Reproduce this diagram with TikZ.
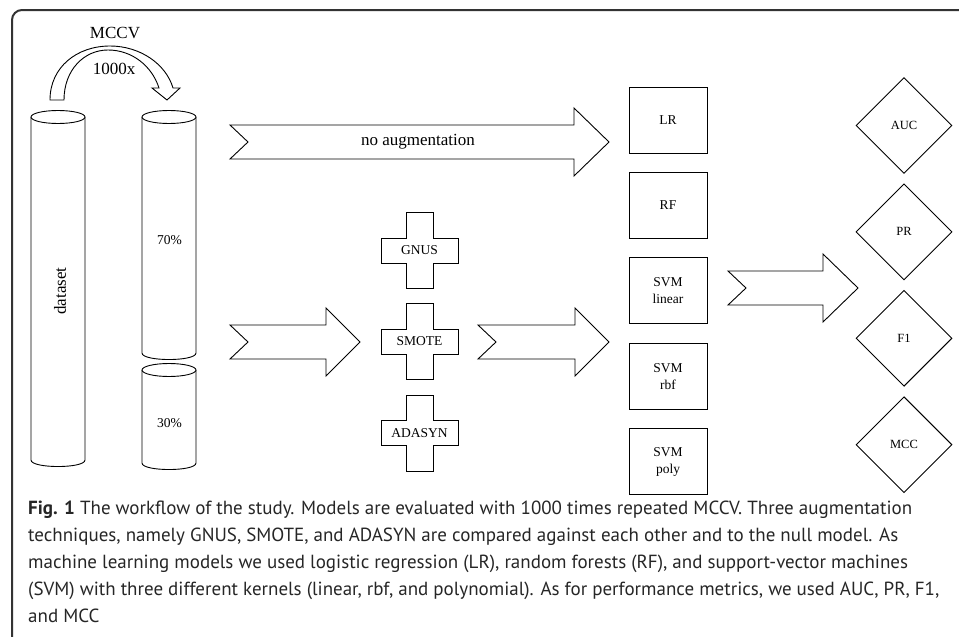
\documentclass[tikz,border=0pt]{standalone}
\usepackage{fontspec}
\setmainfont{Liberation Serif}
\newfontfamily\capfont{PT Sans}
\usetikzlibrary{positioning,shapes.geometric}

\tikzset{
  outline/.style={draw, line width=0.9pt, line join=miter, fill=white},
  biglbl/.style={font=\fontsize{17}{20}\selectfont},
  smalllbl/.style={font=\fontsize{13.5}{16}\selectfont},
}

\begin{document}
\begin{tikzpicture}[
    x=1pt, y=-1pt,
    every node/.style={inner sep=0pt},
    model/.style={outline, rectangle, minimum width=78pt, minimum height=66pt,
      align=center, font=\fontsize{13.5}{17}\selectfont},
    metric/.style={outline, diamond, minimum width=96pt, minimum height=96pt,
      font=\fontsize{12.5}{15}\selectfont},
    ]
    \useasboundingbox (0,0) rectangle (959,637);
    % frame
    \draw[line width=2pt, draw=black!80, rounded corners=10pt] (12,637) -- (12,10) -- (959,10);

    % MCCV loop arrow
    \draw[outline] (50,100) .. controls (50,67) and (77,46) .. (110,46)
      .. controls (140,46) and (166,64) .. (173,88) -- (180,88) -- (167,100)
      -- (152,88) -- (159,88) .. controls (152,66) and (132,50) .. (108,50)
      .. controls (84,50) and (64,70) .. (64,100) -- cycle;
    \node[biglbl] (mccv) at (115,33) {MCCV};
    \node[biglbl] (reps) at (114,69) {1000x};

    % cylinders
    \foreach \xc/\ytop/\ybot in {58/117/460, 169/117/353, 169/370/463} {
      \draw[outline] (\xc-27,\ytop) -- (\xc-27,\ybot)
        .. controls (\xc-27,\ybot+8.7) and (\xc+27,\ybot+8.7) .. (\xc+27,\ybot)
        -- (\xc+27,\ytop);
      \draw[outline] (\xc,\ytop) ellipse [x radius=27, y radius=6.5];
    }
    \node[biglbl, rotate=90] (dataset) at (60,291) {dataset};
    \node[smalllbl] (train) at (169.5,240) {70\%};
    \node[smalllbl] (test) at (169.5,423) {30\%};

    % block arrows
    \foreach \xt/\yc/\xh/\xp in {230/142/574/609, 230/342/326/360, 478/342/575/609, 728/288/823/858}
      \draw[outline] (\xt,\yc-17) -- (\xh,\yc-17) -- (\xh,\yc-34) -- (\xp,\yc)
        -- (\xh,\yc+34) -- (\xh,\yc+17) -- (\xt,\yc+17) -- (\xt+18,\yc) -- cycle;
    \node[biglbl] (noaug) at (418,142) {no augmentation};

    % augmentation crosses
    \foreach \yc/\name/\txt in {250.5/gnus/GNUS, 341.5/smote/SMOTE, 433/adasyn/ADASYN} {
      \draw[outline, shift={(419.5,\yc)}] (-13.5,-38) -- (13.5,-38) -- (13.5,-12.5)
        -- (38.5,-12.5) -- (38.5,12.5) -- (13.5,12.5) -- (13.5,38) -- (-13.5,38)
        -- (-13.5,12.5) -- (-38.5,12.5) -- (-38.5,-12.5) -- (-13.5,-12.5) -- cycle;
      \node[smalllbl] (\name) at (419.5,\yc) {\txt};
    }

    % models
    \node[model] (lr) at (668,120) {LR};
    \node[model, below=18.5pt of lr] (rf) {RF};
    \node[model, below=18.5pt of rf] (svmlin) {SVM\\linear};
    \node[model, below=18.5pt of svmlin] (svmrbf) {SVM\\rbf};
    \node[model, below=18.5pt of svmrbf] (svmpoly) {SVM\\poly};

    % metrics
    \node[metric] (auc) at (904,125.5) {AUC};
    \node[metric, below=9.5pt of auc] (pr) {PR};
    \node[metric, below=9.5pt of pr] (fone) {F1};
    \node[metric, below=9.5pt of fone] (mcc) {MCC};

    % caption
    \node[anchor=north west, align=left, text=black!85,
      font=\capfont\fontsize{19}{27}\selectfont] (caption) at (28,501) {%
      \textbf{Fig. 1} The workflow of the study. Models are evaluated with 1000 times repeated MCCV. Three augmentation\\
      techniques, namely GNUS, SMOTE, and ADASYN are compared against each other and to the null model. As\\
      machine learning models we used logistic regression (LR), random forests (RF), and support-vector machines\\
      (SVM) with three different kernels (linear, rbf, and polynomial). As for performance metrics, we used AUC, PR, F1,\\
      and MCC};
\end{tikzpicture}
\end{document}
